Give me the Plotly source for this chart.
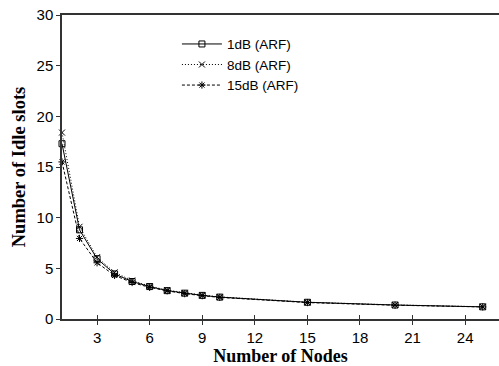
import plotly.graph_objects as go

nodes = [1, 2, 3, 4, 5, 6, 7, 8, 9, 10, 15, 20, 25]
idle_1db = [17.3, 8.8, 5.95, 4.45, 3.7, 3.2, 2.8, 2.55, 2.33, 2.16, 1.65, 1.38, 1.2]
idle_8db = [18.4, 9.1, 6.1, 4.6, 3.8, 3.25, 2.85, 2.58, 2.36, 2.18, 1.66, 1.39, 1.21]
idle_15db = [15.5, 7.95, 5.55, 4.3, 3.6, 3.12, 2.78, 2.5, 2.3, 2.13, 1.62, 1.36, 1.19]
series_names = ["1dB (ARF)", "8dB (ARF)", "15dB (ARF)"]
x_ticks = [3, 6, 9, 12, 15, 18, 21, 24]
y_ticks = [0, 5, 10, 15, 20, 25, 30]

styles = [
    dict(dash="solid", symbol="square-open", size=6),
    dict(dash="1px,2px", symbol="x-thin-open", size=6),
    dict(dash="3px,2px", symbol="asterisk-open", size=6),
]

fig = go.Figure()
for name, ys, st in zip(series_names, [idle_1db, idle_8db, idle_15db], styles):
    fig.add_trace(go.Scatter(
        x=nodes, y=ys, name=name, mode="lines+markers",
        line=dict(color="black", width=1, dash=st["dash"]),
        marker=dict(symbol=st["symbol"], size=st["size"], color="black",
                    line=dict(color="black", width=1)),
        cliponaxis=False,
    ))

fig.update_layout(
    width=499, height=366,
    margin=dict(l=62, r=0, t=15, b=47),
    paper_bgcolor="white", plot_bgcolor="white",
    font=dict(family="Liberation Sans, Arial, sans-serif", size=15, color="black"),
    showlegend=True,
    legend=dict(x=0.263, y=0.955, xanchor="left", yanchor="top",
                bgcolor="rgba(0,0,0,0)", font=dict(size=13.5),
                tracegroupgap=0, itemwidth=40),
    xaxis=dict(
        range=[1, 25.93], tickvals=x_ticks, ticks="outside", ticklen=4,
        tickcolor="#333", showline=True, linecolor="#333", linewidth=1.5,
        mirror=True, showgrid=False, zeroline=False,
        title=dict(text="<b>Number of Nodes</b>",
                   font=dict(family="Liberation Serif, Times New Roman, serif", size=18),
                   standoff=6),
        tickfont=dict(size=15),
    ),
    xaxis2=dict(
        range=[1, 25.93], tickvals=x_ticks, ticks="inside", ticklen=4,
        tickcolor="#333", showticklabels=False, overlaying="x", side="bottom",
        anchor="y", showgrid=False, zeroline=False, showline=False,
    ),
    yaxis=dict(
        range=[0, 30], tickvals=y_ticks, ticks="outside", ticklen=4,
        tickcolor="#333", showline=True, linecolor="#333", linewidth=1.5,
        showgrid=False, zeroline=False,
        title=dict(text="<b>Number of Idle slots</b>",
                   font=dict(family="Liberation Serif, Times New Roman, serif", size=18.5),
                   standoff=6),
        tickfont=dict(size=15),
    ),
)
fig.add_trace(go.Scatter(x=[None], y=[None], xaxis="x2", showlegend=False, hoverinfo="skip"))

fig.write_html("out.html")
